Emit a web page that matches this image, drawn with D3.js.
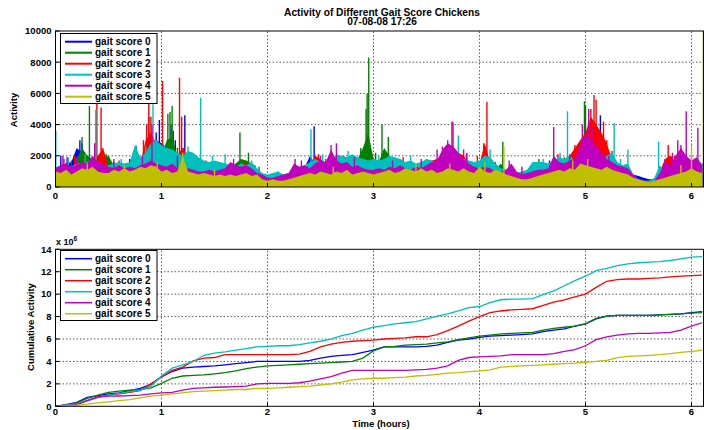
<!DOCTYPE html>
<html>
<head>
<meta charset="utf-8">
<script src="https://cdn.jsdelivr.net/npm/d3@7"></script>
<style>
  body { margin: 0; background: #fff; }
  text { font-family: "Liberation Sans", Arial, sans-serif; font-weight: bold; fill: #000; }
</style>
</head>
<body>
<svg id="chart" width="704" height="430"></svg>
<script>
// ---- data ----
const seriesNames = ["gait score 0", "gait score 1", "gait score 2", "gait score 3", "gait score 4", "gait score 5"];
const seriesColors = ["#0000ff", "#008000", "#ff0000", "#00bfbf", "#bf00bf", "#bfbf00"];
const hoursMax = 6.113;
const xTicks = [0, 1, 2, 3, 4, 5, 6];
const activityTicks = [0, 2000, 4000, 6000, 8000, 10000];
const cumulativeTicks = [0, 2, 4, 6, 8, 10, 12, 14];

// activity envelope, one sample every 0.05 h (0 .. 6.10 h)
const activityStep = 0.05;
const activity0 = [1200,1400,1500,1600,2500,2200,1500,1400,1300,1200, 1100,1300,1200,1100,1400,2000,1500,1600,2500,3000,
  2800,2500,3000,2000,2500,1500,1300,1200,1100,1000, 1100,1000,1100,1300,1200,1100,1000,900,800,600,
  500,600,500,600,700,800,900,1200,2000,1500, 1300,1200,1300,1400,1300,1200,1300,1400,1500,2000,
  1800,1300,1200,1100,1000,1100,1200,1000,1100,1000, 1100,1200,1300,1400,1500,1400,1300,1200,1100,1200,
  1300,1200,1100,1000,900,800,700,800,700,800, 900,1000,1100,1200,1300,1400,1500,1600,2000,2200,
  2500,2800,3000,2500,1500,1200,1000,900,800,800, 700,600,500,500,600,700,800,900,1000,900, 1000,1100,1000];
const activity1 = [900,1000,1200,1100,1800,2500,2000,1800,1500,1800, 2000,1400,1300,1200,1100,1300,1400,2500,3000,2500,
  2000,3000,3200,2000,1500,1300,1200,1100,1000,1100, 1200,1100,1000,1200,1500,1800,1700,1500,900,700,
  500,500,600,700,600,800,900,1000,1100,1200, 1300,1200,1100,1300,1200,1400,1500,1800,2500,3500,
  1800,1600,2500,2000,1400,1200,1100,1200,1100,1000, 1100,1200,1300,1400,1500,1600,1400,1300,1200,1100,
  1200,1300,1200,1100,1500,1000,900,800,900,1000, 1200,1300,1200,1100,1200,1300,1400,1500,1800,2500,
  3000,2800,2500,2000,1500,1300,1100,1000,900,600, 400,400,300,400,800,900,1000,1100,1000,1200, 1100,1000,900];
const activity2 = [1000,1300,1500,1200,1600,1300,1200,1500,2000,2500, 1300,1100,1200,1000,1100,1200,1500,3000,3500,2800,
  2500,1800,1700,2000,2500,1800,1500,1200,1400,1300, 1200,1100,1000,1100,1200,1300,1500,1200,900,700,
  600,500,600,700,800,900,1000,1100,1200,2000, 1800,1500,1400,1300,1700,1900,1600,1400,1300,1200,
  1100,1200,1300,1200,1400,1800,1500,1300,1200,1400, 1600,1700,1800,2000,2400,2600,2200,2000,1600,1400,
  1500,2800,1600,1200,1000,900,800,700,800,900, 1000,1100,1300,1500,1400,1600,1700,2000,2500,3000,
  3500,4500,4000,3500,2800,1800,1400,1200,1000,700, 500,400,400,500,1000,1800,2000,1700,1800,1500, 1300,1200,1000];
const activity3 = [1300,1300,1400,1300,1500,1500,1600,1800,1500,1300, 1400,1500,1600,1500,1600,2700,1900,2200,2800,3000,
  2700,2500,2400,2200,2000,2300,2200,1900,1700,1600, 1700,1600,1500,1400,1300,1500,1400,1600,1200,900,
  800,900,1000,800,900,1200,1300,1400,1600,1800, 1600,1500,1700,2100,2000,1900,2100,1900,1800,1700,
  1800,1700,1800,2000,1900,1800,1600,1700,1500,1600, 1800,1700,1600,1800,2000,2200,2000,1800,1700,1600,
  1700,2000,1900,1500,1200,1100,1000,900,1000,1100, 1600,1600,1600,1500,1700,1900,1800,2000,1700,1600,
  1800,1500,1400,1600,2000,2200,1600,1400,1500,800, 500,400,400,600,1400,1000,1200,1100,1300,1200, 1500,1200,1300];
const activity4 = [1200,1400,1500,1300,1400,1600,1500,2000,1600,1500, 1300,1200,1400,1200,1300,1200,1400,1500,1700,1500,
  1400,1300,1500,1200,1100,1200,1100,1000,1000,1100, 1000,1100,1200,1600,1400,1300,1400,1200,900,800,
  600,600,700,800,900,1500,1300,1400,1200,1500, 1700,1600,2400,1700,1500,1600,1300,1400,1200,1100,
  1100,1200,1100,1300,1200,1400,1200,1100,1300,1200, 1400,1600,1700,2400,2800,2600,2200,1800,1500,1300,
  1200,1300,1200,1000,1000,1100,1500,1000,800,900, 1000,1100,1100,1200,2000,1600,1500,1700,1800,2600,
  3300,3000,2600,2200,1800,1600,1400,1300,1200,800, 500,400,300,400,900,1600,1400,2000,2500,2000, 1700,1900,1400];
const activity5 = [1000,900,1100,800,1000,1200,1100,1300,1000,900, 900,1100,1000,1200,1000,1100,1300,1200,1400,1300,
  1000,1100,900,1000,2000,1000,900,800,900,800, 700,800,700,800,700,800,900,700,800,500,
  400,500,400,400,500,600,700,800,900,800, 1000,900,800,1000,900,1100,800,900,1000,900,
  800,900,1000,1100,900,1000,1200,1100,1000,1200, 1000,1100,900,1000,1200,1100,1000,1200,1000,900,
  1300,1000,900,1100,1000,800,700,600,500,500, 600,700,800,900,1000,1100,1000,1200,1100,1500,
  1400,1300,1200,1100,1300,1100,1000,900,800,600, 500,400,300,400,500,600,700,800,900,1000, 1200,1000,900];

// single peaks sticking out of the mass: [hour, activity]
const spikes0 = [[0.05,2000],[0.11,1900],[0.23,3000],[0.25,2800],[0.70,1800],[0.76,2600],[0.93,2600],[0.95,3500],[0.98,4300],
  [1.04,2500],[1.09,4000],[1.11,3600],[1.13,3000],[1.22,4600],[1.53,1600],[1.88,1400],[2.37,1500],[2.44,3900],[2.90,1700],
  [2.98,2300],[3.55,1500],[4.66,1700],[4.88,1900],[4.92,2300],[5.14,4600],[5.22,1700],[6.10,1500]];
const spikes1 = [[0.15,1700],[0.25,3200],[0.32,5200],[0.40,2000],[0.48,2100],[0.55,1600],[0.88,4500],[0.92,3000],[0.97,2300],
  [1.06,4700],[1.08,4800],[1.10,5200],[1.15,2500],[1.57,1500],[1.74,3500],[1.82,2200],[1.92,1300],[2.70,1800],[2.88,2500],
  [2.93,5000],[2.94,6000],[2.955,8300],[3.02,2200],[3.08,4000],[3.14,3200],[3.22,1800],[4.15,1600],[4.22,2900],[4.56,1800],
  [4.80,1900],[4.99,5500],[5.0,5200],[5.30,1500]];
const spikes2 = [[0.08,1800],[0.18,2000],[0.39,5400],[0.43,5100],[0.44,2500],[0.60,1700],[0.78,1800],[0.83,3000],[0.86,4000],
  [0.88,5500],[0.90,4500],[1.01,6800],[1.17,7000],[1.19,4500],[1.21,2500],[1.27,2000],[1.42,1700],[1.79,1600],[2.48,2100],
  [2.55,1800],[2.72,2000],[3.28,1900],[3.50,1800],[3.75,4150],[3.85,2400],[3.98,2000],[4.04,2800],[4.07,5450],[4.74,2100],
  [4.90,2700],[5.05,5000],[5.08,5900],[5.10,5600],[5.17,4200],[5.20,3000],[5.25,2300],[5.78,2700],[5.84,2000],[5.93,2000],[6.04,1800]];
const spikes3 = [[0.003,3600],[0.12,1900],[0.28,2100],[0.38,4950],[0.62,1800],[0.76,2700],[0.85,2600],[0.92,5300],[1.25,2600],
  [1.37,5700],[1.48,2000],[1.60,2100],[1.85,1700],[2.10,1000],[2.41,3700],[2.52,2100],[2.76,2300],[3.05,2000],[3.35,2000],
  [3.80,3300],[3.88,2100],[4.10,2400],[4.60,1800],[4.76,2200],[4.83,4850],[5.27,4100],[5.33,1800],[5.40,2400],[5.69,2900],
  [5.97,1700],[6.08,1600]];
const spikes4 = [[0.07,2000],[0.20,1900],[0.37,2800],[0.55,1800],[0.82,2000],[0.91,4000],[1.15,2000],[1.68,1800],[2.26,1800],
  [2.32,1700],[2.50,2000],[2.60,2700],[2.65,2800],[2.82,1900],[3.18,1700],[3.45,1800],[3.60,2400],[3.65,2600],[3.70,3000],
  [3.74,4200],[3.88,2200],[4.28,1700],[4.40,1300],[4.70,3850],[4.85,2100],[4.97,4000],[5.03,5000],[5.07,3800],[5.13,3200],
  [5.22,2000],[5.75,1800],[5.82,2200],[5.87,3000],[5.90,2700],[5.95,4850],[6.00,2000],[6.06,3800]];
const spikes5 = [[0.30,1500],[0.65,1400],[0.96,1600],[1.20,2200],[1.50,1100],[2.62,1300],[3.40,1500],[3.72,1500],[4.05,1600],
  [4.23,2600],[4.88,1700],[5.02,1800],[5.90,1400],[6.00,2700],[6.111,10000]];

// cumulative activity (x 10^6), one sample every 0.1 h (0 .. 6.1 h)
const cumStep = 0.1;
const cum0 = [0,0.15,0.35,0.8,0.95,1.1,1.2,1.4,1.6,1.95, 2.65,3.1,3.4,3.5,3.55,3.6,3.7,3.8,3.9,4.0,
  4.0,4.0,4.0,4.0,4.1,4.3,4.45,4.55,4.6,4.8, 5.0,5.3,5.3,5.3,5.3,5.35,5.45,5.7,5.9,6.0,
  6.15,6.25,6.3,6.35,6.4,6.45,6.65,6.8,6.9,7.15, 7.35,7.8,8.05,8.1,8.1,8.1,8.1,8.15,8.2,8.25, 8.35,8.45];
const cum1 = [0,0.1,0.3,0.7,1.0,1.25,1.35,1.45,1.5,1.65, 2.05,2.5,2.7,2.75,2.8,2.9,3.0,3.15,3.35,3.5,
  3.6,3.65,3.7,3.75,3.8,3.85,3.9,3.95,4.0,4.3, 4.95,5.3,5.35,5.45,5.5,5.55,5.65,5.75,5.95,6.1,
  6.25,6.35,6.45,6.5,6.55,6.6,6.8,6.95,7.05,7.15, 7.35,7.85,8.05,8.1,8.1,8.1,8.1,8.15,8.2,8.25, 8.3,8.35];
const cum2 = [0,0.1,0.2,0.5,0.8,1.0,1.1,1.25,1.4,2.0, 2.6,3.2,3.5,4.05,4.3,4.35,4.6,4.6,4.6,4.6,
  4.6,4.6,4.6,4.65,4.9,5.3,5.55,5.7,5.8,5.85, 5.9,6.0,6.05,6.1,6.2,6.2,6.4,6.75,7.15,7.6,
  8.0,8.35,8.5,8.6,8.65,8.7,9.0,9.3,9.5,9.75, 10.0,10.6,11.15,11.3,11.35,11.35,11.4,11.45,11.55,11.6, 11.65,11.7];
const cum3 = [0,0.1,0.2,0.5,0.8,1.0,1.15,1.3,1.45,1.8, 2.7,3.4,3.7,4.0,4.55,4.75,4.85,5.0,5.15,5.3,
  5.35,5.4,5.4,5.5,5.65,5.8,6.0,6.3,6.5,6.8, 7.05,7.2,7.35,7.45,7.55,7.8,8.05,8.25,8.5,8.8,
  8.9,9.25,9.5,9.55,9.55,9.6,9.95,10.3,10.75,11.2, 11.6,12.1,12.3,12.55,12.7,12.8,12.85,12.9,13.0,13.15, 13.3,13.35];
const cum4 = [0,0.05,0.15,0.5,0.85,0.9,0.92,0.95,1.0,1.1, 1.2,1.25,1.45,1.6,1.65,1.7,1.72,1.75,1.8,2.0,
  2.05,2.05,2.05,2.1,2.25,2.45,2.65,2.95,3.2,3.2, 3.2,3.2,3.2,3.2,3.25,3.3,3.4,3.6,4.1,4.35,
  4.4,4.45,4.5,4.6,4.6,4.6,4.6,4.7,4.9,5.05, 5.4,5.95,6.2,6.35,6.45,6.5,6.5,6.55,6.6,6.8, 7.15,7.45];
const cum5 = [0,0.05,0.1,0.2,0.3,0.4,0.5,0.6,0.75,0.9, 1.0,1.1,1.2,1.3,1.35,1.4,1.45,1.5,1.5,1.6,
  1.6,1.65,1.7,1.75,1.8,1.9,2.0,2.15,2.35,2.45, 2.5,2.5,2.55,2.6,2.7,2.75,2.85,2.95,3.0,3.1,
  3.15,3.25,3.5,3.55,3.6,3.65,3.7,3.75,3.8,3.85, 3.93,4.0,4.1,4.35,4.45,4.5,4.55,4.6,4.7,4.8, 4.9,5.0];

const activitySeries = [activity0, activity1, activity2, activity3, activity4, activity5];
const spikeSeries = [spikes0, spikes1, spikes2, spikes3, spikes4, spikes5];
const cumulativeSeries = [cum0, cum1, cum2, cum3, cum4, cum5];

// ---- layout ----
const svg = d3.select("#chart");
const left = 55.5, right = 703.5;
const x = d3.scaleLinear().domain([0, hoursMax]).range([left, right]);
const yTop = d3.scaleLinear().domain([0, 10000]).range([187, 31]);
const yBot = d3.scaleLinear().domain([0, 14]).range([406.3, 249.3]);

const defs = svg.append("defs");
defs.append("clipPath").attr("id", "clipTop")
  .append("rect").attr("x", left).attr("y", 31).attr("width", right - left).attr("height", 156);
defs.append("clipPath").attr("id", "clipBot")
  .append("rect").attr("x", left).attr("y", 249.3).attr("width", right - left).attr("height", 157);

// dotted grid of one panel
function drawGrid(y, yTicks) {
  const g = svg.append("g");
  const [y0, y1] = y.range();
  g.selectAll(".vgrid").data(xTicks.slice(1)).join("line")
    .attr("x1", d => x(d)).attr("x2", d => x(d)).attr("y1", y0).attr("y2", y1)
    .attr("stroke", "#333").attr("stroke-width", 0.8).attr("stroke-dasharray", "1.5,2");
  g.selectAll(".hgrid").data(yTicks.slice(1, -1)).join("line")
    .attr("x1", left).attr("x2", right).attr("y1", d => y(d)).attr("y2", d => y(d))
    .attr("stroke", "#333").attr("stroke-width", 0.8).attr("stroke-dasharray", "1.5,2");
}

// box, inward ticks and tick labels
function drawAxes(y, yTicks, xLabelY) {
  const g = svg.append("g");
  const [y0, y1] = y.range();
  g.append("rect").attr("x", left).attr("y", y1).attr("width", right - left).attr("height", y0 - y1)
    .attr("fill", "none").attr("stroke", "#000").attr("stroke-width", 1);
  g.selectAll(".xt").data(xTicks).join("line")
    .attr("x1", d => x(d)).attr("x2", d => x(d)).attr("y1", y0).attr("y2", y0 - 4)
    .attr("stroke", "#000");
  g.selectAll(".yt").data(yTicks).join("line")
    .attr("x1", left).attr("x2", left + 4).attr("y1", d => y(d)).attr("y2", d => y(d))
    .attr("stroke", "#000");
  g.selectAll(".xl").data(xTicks).join("text")
    .attr("x", d => x(d)).attr("y", xLabelY).attr("text-anchor", "middle")
    .attr("font-size", "9.5px").text(d => d);
  g.selectAll(".yl").data(yTicks).join("text")
    .attr("x", left - 4).attr("y", d => y(d)).attr("dy", "0.35em").attr("text-anchor", "end")
    .attr("font-size", "9.5px").text(d => d);
}

function drawLegend(top, lineWidth) {
  const g = svg.append("g");
  g.append("rect").attr("x", 60.5).attr("y", top).attr("width", 96.5).attr("height", 70)
    .attr("fill", "#fff").attr("stroke", "#000").attr("stroke-width", 1);
  const rows = g.selectAll(".row").data(seriesNames).join("g")
    .attr("transform", (d, i) => `translate(0,${top + 8.2 + i * 11})`);
  rows.append("line").attr("x1", 65).attr("x2", 92).attr("y1", 0).attr("y2", 0)
    .attr("stroke", (d, i) => seriesColors[i]).attr("stroke-width", lineWidth);
  rows.append("text").attr("x", 95).attr("y", 0).attr("dy", "0.35em")
    .attr("font-size", "10px").text(d => d);
}

// ---- top panel: activity ----
drawGrid(yTop, activityTicks);
const topPlot = svg.append("g").attr("clip-path", "url(#clipTop)");
const area = d3.area().x(d => x(d[0])).y0(yTop(0)).y1(d => yTop(d[1]));

// series are painted in order, so later ones cover the lower part of earlier ones
activitySeries.forEach((vals, k) => {
  const pts = vals.map((v, i) => [i * activityStep, v]);
  topPlot.append("path").datum(pts).attr("d", area).attr("fill", seriesColors[k]);
  topPlot.selectAll(".spike" + k).data(spikeSeries[k]).join("line")
    .attr("x1", d => x(d[0])).attr("x2", d => x(d[0]))
    .attr("y1", yTop(0)).attr("y2", d => yTop(d[1]))
    .attr("stroke", seriesColors[k]).attr("stroke-width", 1.4);
});
drawAxes(yTop, activityTicks, 199);
drawLegend(33.5, 2);

svg.append("text").attr("x", 16.5).attr("y", 110).attr("transform", "rotate(-90,16.5,110)")
  .attr("text-anchor", "middle").attr("font-size", "9.5px").text("Activity");

// ---- bottom panel: cumulative activity ----
drawGrid(yBot, cumulativeTicks);
const botPlot = svg.append("g").attr("clip-path", "url(#clipBot)");
const line = d3.line().x(d => x(d[0])).y(d => yBot(d[1]));
cumulativeSeries.forEach((vals, k) => {
  const pts = vals.map((v, i) => [i * cumStep, v]);
  botPlot.append("path").datum(pts).attr("d", line)
    .attr("fill", "none").attr("stroke", seriesColors[k]).attr("stroke-width", 1.3);
});
drawAxes(yBot, cumulativeTicks, 414.5);
drawLegend(250.5, 1.5);

svg.append("text").attr("x", 33.5).attr("y", 327).attr("transform", "rotate(-90,33.5,327)")
  .attr("text-anchor", "middle").attr("font-size", "9.5px").text("Cumulative Activity");

const expo = svg.append("text").attr("x", 56).attr("y", 245).attr("font-size", "9px").attr("font-weight", "normal");
expo.append("tspan").text("x 10");
expo.append("tspan").attr("dy", -4).attr("font-size", "6.5px").text("6");

svg.append("text").attr("x", 381).attr("y", 426.5).attr("text-anchor", "middle")
  .attr("font-size", "9.5px").text("Time (hours)");

// ---- titles ----
svg.append("text").attr("x", 382).attr("y", 15.5).attr("text-anchor", "middle")
  .attr("font-size", "10.2px").text("Activity of Different Gait Score Chickens");
svg.append("text").attr("x", 382).attr("y", 25).attr("text-anchor", "middle")
  .attr("font-size", "10.2px").text("07-08-08 17:26");
</script>
</body>
</html>
